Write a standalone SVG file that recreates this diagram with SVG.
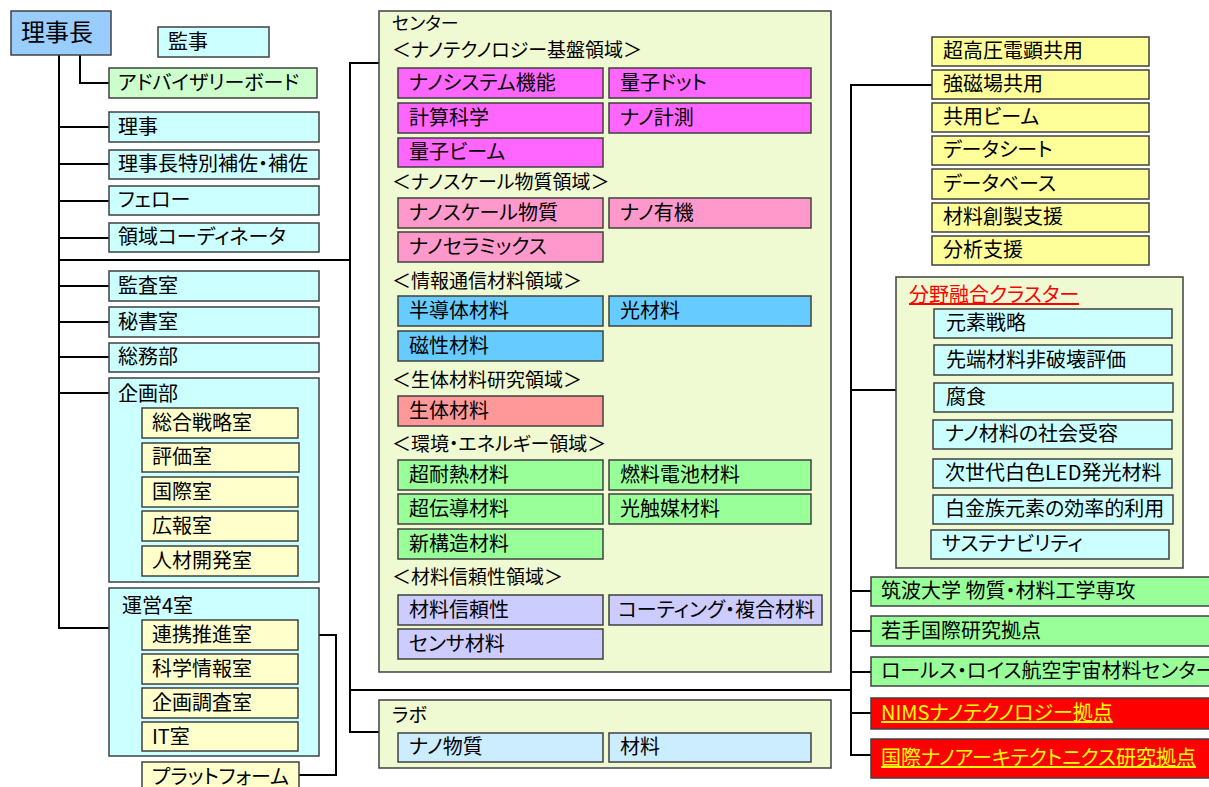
<svg xmlns="http://www.w3.org/2000/svg" width="1209" height="787" viewBox="0 0 1209 787">
<style>
text{font-family:"Noto Sans CJK JP","Liberation Sans",sans-serif;font-size:20px;fill:#000;font-feature-settings:"palt";}
.b{stroke:#404040;stroke-width:1.5;}
.c{fill:#CCFFFF;}
.y{fill:#FFFFCC;}
.g{fill:#CCFFCC;}
.con{fill:#F0FAD2;}
.m{fill:#FF66FF;}
.p{fill:#FF99CC;}
.bl{fill:#66CCFF;}
.s{fill:#FF9999;}
.gr{fill:#99FF99;}
.l{fill:#CCCCFF;}
.lb{fill:#CCECFF;}
.yy{fill:#FFFF99;}
.r{fill:#FF0000;}
.hd{font-size:19px;}
.red{fill:#FF0000;text-decoration:underline;}
.yt{fill:#FFFF00;text-decoration:underline;}
.ln{fill:none;stroke:#000;stroke-width:2;}
</style>
<g id="connectors">
<path class="ln" d="M80 55V83H109"/>
<path class="ln" d="M59 55V628H109"/>
<path class="ln" d="M59 127H109M59 164H109M59 201H109M59 238H109M59 260H350M59 286H109M59 322H109M59 357H109M59 393H109"/>
<path class="ln" d="M379 63H350V732H379"/>
<path class="ln" d="M350 690H851"/>
<path class="ln" d="M298 635H336V775H299"/>
<path class="ln" d="M932 85H851V755H871"/>
<path class="ln" d="M851 390H896M851 591H871M851 631H871M851 672H871M851 713H871"/>
</g>
<g id="rijicho"><rect class="b" x="11" y="11" width="100" height="44" fill="#99CCFF"/><text x="21" y="41" style="font-size:24px">理事長</text></g>
<g id="kanji"><rect class="b c" x="158" y="27" width="111" height="30"/><text x="168" y="49">監事</text></g>
<g id="advisory"><rect class="b g" x="109" y="68" width="208" height="30"/><text x="118" y="90">アドバイザリーボード</text></g>
<g id="riji"><rect class="b c" x="109" y="112" width="210" height="30"/><text x="118" y="134">理事</text></g>
<g id="hosa"><rect class="b c" x="109" y="150" width="210" height="29"/><text x="118" y="171">理事長特別補佐・補佐</text></g>
<g id="fellow"><rect class="b c" x="109" y="186" width="210" height="29"/><text x="118" y="207">フェロー</text></g>
<g id="coord"><rect class="b c" x="109" y="223" width="210" height="29"/><text x="118" y="244">領域コーディネータ</text></g>
<g id="kansa"><rect class="b c" x="109" y="271" width="210" height="30"/><text x="118" y="293">監査室</text></g>
<g id="hisho"><rect class="b c" x="109" y="307" width="210" height="30"/><text x="118" y="329">秘書室</text></g>
<g id="somu"><rect class="b c" x="109" y="343" width="210" height="29"/><text x="118" y="364">総務部</text></g>
<g id="kikaku"><rect class="b c" x="109" y="378" width="210" height="204"/><text x="118" y="401">企画部</text>
<rect class="b y" x="142" y="408" width="156" height="30"/><text x="152" y="430">総合戦略室</text>
<rect class="b y" x="142" y="443" width="157" height="29"/><text x="152" y="464">評価室</text>
<rect class="b y" x="142" y="477" width="156" height="30"/><text x="152" y="499">国際室</text>
<rect class="b y" x="142" y="511" width="156" height="30"/><text x="152" y="533">広報室</text>
<rect class="b y" x="142" y="546" width="156" height="30"/><text x="152" y="568">人材開発室</text></g>
<g id="unei"><rect class="b c" x="109" y="588" width="210" height="168"/><text x="122" y="613">運営4室</text>
<rect class="b y" x="142" y="620" width="156" height="30"/><text x="152" y="642">連携推進室</text>
<rect class="b y" x="142" y="654" width="156" height="30"/><text x="152" y="676">科学情報室</text>
<rect class="b y" x="142" y="688" width="156" height="30"/><text x="152" y="710">企画調査室</text>
<rect class="b y" x="142" y="722" width="156" height="29"/><text x="152" y="744">IT室</text></g>
<g id="platform"><rect class="b y" x="142" y="762" width="157" height="30"/><text x="152" y="784">プラットフォーム</text></g>
<g id="center"><rect class="b con" x="379" y="11" width="452" height="661"/>
<text x="392" y="30" style="font-size:18px">センター</text>
<text class="hd" x="392" y="57">＜ナノテクノロジー基盤領域＞</text>
<rect class="b m" x="398" y="68" width="205" height="30"/><text x="409" y="90">ナノシステム機能</text>
<rect class="b m" x="609" y="68" width="202" height="30"/><text x="620" y="90">量子ドット</text>
<rect class="b m" x="398" y="103" width="205" height="30"/><text x="409" y="125">計算科学</text>
<rect class="b m" x="609" y="103" width="202" height="30"/><text x="620" y="125">ナノ計測</text>
<rect class="b m" x="398" y="138" width="205" height="29"/><text x="409" y="159">量子ビーム</text>
<text class="hd" x="392" y="189">＜ナノスケール物質領域＞</text>
<rect class="b p" x="398" y="198" width="205" height="30"/><text x="409" y="220">ナノスケール物質</text>
<rect class="b p" x="609" y="198" width="202" height="30"/><text x="620" y="220">ナノ有機</text>
<rect class="b p" x="398" y="232" width="205" height="30"/><text x="409" y="254">ナノセラミックス</text>
<text class="hd" x="392" y="288">＜情報通信材料領域＞</text>
<rect class="b bl" x="398" y="296" width="205" height="30"/><text x="409" y="318">半導体材料</text>
<rect class="b bl" x="609" y="296" width="202" height="30"/><text x="620" y="318">光材料</text>
<rect class="b bl" x="398" y="331" width="205" height="30"/><text x="409" y="353">磁性材料</text>
<text class="hd" x="392" y="387">＜生体材料研究領域＞</text>
<rect class="b s" x="398" y="396" width="205" height="30"/><text x="409" y="418">生体材料</text>
<text class="hd" x="392" y="451">＜環境・エネルギー領域＞</text>
<rect class="b gr" x="398" y="460" width="205" height="30"/><text x="409" y="482">超耐熱材料</text>
<rect class="b gr" x="609" y="460" width="202" height="30"/><text x="620" y="482">燃料電池材料</text>
<rect class="b gr" x="398" y="494" width="205" height="30"/><text x="409" y="516">超伝導材料</text>
<rect class="b gr" x="609" y="494" width="202" height="30"/><text x="620" y="516">光触媒材料</text>
<rect class="b gr" x="398" y="529" width="205" height="30"/><text x="409" y="551">新構造材料</text>
<text class="hd" x="392" y="584">＜材料信頼性領域＞</text>
<rect class="b l" x="398" y="595" width="205" height="30"/><text x="409" y="617">材料信頼性</text>
<rect class="b l" x="609" y="595" width="213" height="30"/><text x="618" y="617">コーティング・複合材料</text>
<rect class="b l" x="398" y="629" width="205" height="30"/><text x="409" y="651">センサ材料</text></g>
<g id="lab"><rect class="b con" x="379" y="700" width="452" height="68"/>
<text class="hd" x="392" y="722">ラボ</text>
<rect class="b lb" x="398" y="733" width="205" height="29"/><text x="409" y="754">ナノ物質</text>
<rect class="b lb" x="609" y="733" width="202" height="29"/><text x="620" y="754">材料</text></g>
<g id="kyoyo">
<rect class="b yy" x="932" y="37" width="217" height="29"/><text x="943" y="58">超高圧電顕共用</text>
<rect class="b yy" x="932" y="70" width="217" height="29"/><text x="943" y="91">強磁場共用</text>
<rect class="b yy" x="932" y="103" width="217" height="29"/><text x="943" y="124">共用ビーム</text>
<rect class="b yy" x="932" y="136" width="217" height="29"/><text x="943" y="157">データシート</text>
<rect class="b yy" x="932" y="169" width="217" height="30"/><text x="943" y="191">データベース</text>
<rect class="b yy" x="932" y="203" width="217" height="29"/><text x="943" y="224">材料創製支援</text>
<rect class="b yy" x="932" y="236" width="217" height="29"/><text x="943" y="257">分析支援</text></g>
<g id="cluster"><rect class="b con" x="896" y="277" width="287" height="291"/>
<text class="red" x="909" y="302">分野融合クラスター</text>
<rect class="b c" x="934" y="309" width="238" height="29"/><text x="946" y="330">元素戦略</text>
<rect class="b c" x="934" y="345" width="238" height="30"/><text x="946" y="367">先端材料非破壊評価</text>
<rect class="b c" x="934" y="383" width="239" height="29"/><text x="946" y="404">腐食</text>
<rect class="b c" x="933" y="420" width="239" height="29"/><text x="945" y="441">ナノ材料の社会受容</text>
<rect class="b c" x="933" y="459" width="239" height="29"/><text x="945" y="480">次世代白色LED発光材料</text>
<rect class="b c" x="933" y="495" width="240" height="29"/><text x="945" y="516">白金族元素の効率的利用</text>
<rect class="b c" x="931" y="530" width="238" height="29"/><text x="942" y="551">サステナビリティ</text></g>
<g id="tsukuba"><rect class="b gr" x="871" y="577" width="345" height="29"/><text x="881" y="598">筑波大学 物質・材料工学専攻</text></g>
<g id="wakate"><rect class="b gr" x="871" y="616" width="345" height="30"/><text x="881" y="638">若手国際研究拠点</text></g>
<g id="rr"><rect class="b gr" x="871" y="657" width="345" height="29"/><text x="881" y="678">ロールス・ロイス航空宇宙材料センター</text></g>
<g id="nims"><rect class="b r" x="871" y="698" width="345" height="31"/><text class="yt" x="881" y="720">NIMSナノテクノロジー拠点</text></g>
<g id="mana"><rect class="b r" x="871" y="739" width="345" height="39"/><text class="yt" x="881" y="765">国際ナノアーキテクトニクス研究拠点</text></g>
</svg>
